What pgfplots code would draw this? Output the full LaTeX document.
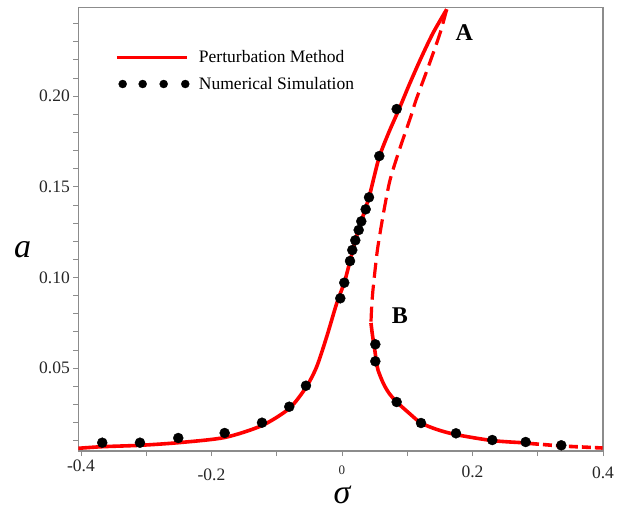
\documentclass[border=0pt]{standalone}
\usepackage{pgfplots}
\pgfplotsset{compat=1.18}
\usepackage{fontspec}
\setmainfont{Liberation Serif}
\definecolor{axgray}{RGB}{140,140,140}
\begin{document}
\begin{tikzpicture}
\begin{axis}[
  scale only axis,
  width=524.7pt, height=443.5pt,
  xmin=-0.4041, xmax=0.4, ymin=0.00425, ymax=0.2489,
  axis line style={draw=axgray, line width=1.3pt},
  tick pos=left, tick align=outside,
  major tick length=5pt, minor tick length=5pt,
  every tick/.style={axgray, line width=0.8pt},
  xtick={-0.4,-0.2,0,0.2,0.4},
  xticklabels={\raisebox{0pt}[12pt][0pt]{-0.4},\raisebox{-9pt}[12pt][0pt]{-0.2},\raisebox{-3pt}[12pt][0pt]{\fontsize{13}{13}\selectfont 0},\raisebox{-6pt}[12pt][0pt]{0.2},\raisebox{-7pt}[12pt][0pt]{0.4}},
  minor xtick={-0.3,-0.1,0.1,0.3},
  ytick={0.05,0.10,0.15,0.20},
  yticklabels={0.05,0.10,0.15,0.20},
  minor ytick={0.01,0.02,0.03,0.04,0.06,0.07,0.08,0.09,0.11,0.12,0.13,0.14,0.16,0.17,0.18,0.19,0.21,0.22,0.23,0.24},
  ticklabel style={font=\fontsize{17.5}{18}\selectfont, text=black!85},
  xticklabel style={anchor=north, text depth=0pt},
  xlabel={\fontsize{34}{34}\selectfont\itshape σ},
  ylabel={\fontsize{34}{34}\selectfont\itshape a},
  every axis x label/.style={at={(axis description cs:0.5026,0)}, anchor=base, inner sep=0pt, yshift=-52pt},
  every axis y label/.style={at={(axis description cs:0,0.4352)}, anchor=base west, inner sep=0pt, xshift=-64.3pt},
  legend style={draw=none, fill=none, at={(axis description cs:0.0642,0.8572)}, anchor=west,
    font=\fontsize{17.5}{20}\selectfont, row sep=8.7pt},
  legend cell align=left,
]
% upper stable branch (solid)
\addplot[red, line width=3.6pt, line join=round, smooth, tension=0.45,
  legend image code/.code={\draw[red, line width=3.6pt] (0pt,0pt) -- (70pt,0pt); \path[draw=none,fill=none] (0pt,-4pt) rectangle (80pt,4pt);}]
  coordinates {
  (-0.4041,0.00574) (-0.3678,0.00662) (-0.3096,0.00739) (-0.2509,0.00883)
  (-0.1798,0.0117) (-0.1226,0.0183) (-0.0808,0.0277) (-0.0552,0.0393)
  (-0.0388,0.0507) (-0.0234,0.0673) (-0.0081,0.0857)
  (0.0035,0.0971) (0.0123,0.1090) (0.0204,0.1205) (0.0296,0.1309)
  (0.0414,0.1442) (0.0480,0.1537) (0.0575,0.1669) (0.0720,0.1802)
  (0.0881,0.1934) (0.1034,0.2066) (0.1211,0.2210) (0.1395,0.2348) (0.1605,0.2479)
  };
\addlegendentry{Perturbation Method}
% numerical simulation dots
\addplot[only marks, mark=*, mark size=5pt, mark options={fill=black, draw=black},
  legend image code/.code={
    \fill[black] (5.7pt,0pt) circle (4pt);
    \fill[black] (25.7pt,0pt) circle (4pt);
    \fill[black] (46.7pt,0pt) circle (4pt);
    \fill[black] (68.3pt,0pt) circle (4pt);
    \path[draw=none,fill=none] (0pt,-4pt) rectangle (80pt,4pt);}]
  coordinates {
  (-0.3674,0.00883) (-0.3096,0.00883) (-0.2509,0.01142) (-0.1798,0.01418)
  (-0.1226,0.01986) (-0.0808,0.02868) (-0.0552,0.04026) (-0.0026,0.08847)
  (0.0035,0.09708) (0.0123,0.10905) (0.0158,0.11511) (0.0204,0.12046)
  (0.0256,0.12614) (0.0296,0.13094) (0.0363,0.13756) (0.0414,0.14418)
  (0.0572,0.16696) (0.0838,0.19288)
  (0.0511,0.0631) (0.0511,0.05372) (0.0838,0.03127) (0.1211,0.01969)
  (0.1747,0.01401) (0.2303,0.01031) (0.2815,0.00921) (0.3361,0.00739)
  };
\addlegendentry{Numerical Simulation}
% unstable branch (dashed)
\addplot[red, line width=3.2pt, dash pattern=on 15pt off 7pt, smooth, tension=0.45, forget plot]
  coordinates {
  (0.1605,0.2479) (0.1502,0.2346) (0.1323,0.2162) (0.1134,0.1978) (0.1057,0.1890)
  (0.0889,0.1714) (0.0736,0.1537) (0.0636,0.1355) (0.0559,0.1190) (0.0529,0.1112)
  (0.0475,0.0932) (0.0455,0.0838) (0.0444,0.0749)
  };
% lower stable branch (solid)
\addplot[red, line width=3.6pt, line join=round, smooth, tension=0.45, forget plot]
  coordinates {
  (0.0444,0.0749) (0.0467,0.0682) (0.0498,0.0611) (0.0526,0.0539) (0.0552,0.0489)
  (0.0633,0.0416) (0.0720,0.0362) (0.0838,0.0313) (0.1042,0.0247) (0.1211,0.0197)
  (0.1456,0.0161) (0.1747,0.0133) (0.2303,0.0100) (0.2815,0.0087) (0.2881,0.0084)
  };
% right tail (dashed)
\addplot[red, line width=3.6pt, dash pattern=on 9pt off 4pt, forget plot]
  coordinates {
  (0.2881,0.0084) (0.3361,0.0070) (0.3993,0.0059)
  };
\node[anchor=base west, font=\fontsize{24}{24}\selectfont\bfseries] at (axis cs:0.1686,0.2309) {A};
\node[anchor=base west, font=\fontsize{24}{24}\selectfont\bfseries] at (axis cs:0.0710,0.0747) {B};
\end{axis}
\pgfresetboundingbox
\path (current axis.south west) ++(-78.3pt,-58pt) rectangle ++(622pt,509pt);
\end{tikzpicture}
\end{document}
